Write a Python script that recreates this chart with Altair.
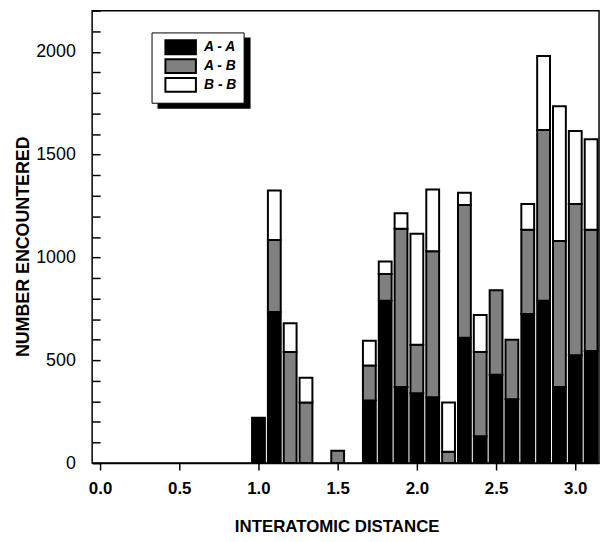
import altair as alt
import pandas as pd

# ---- data ----
centers = [1.0, 1.1, 1.2, 1.3, 1.5, 1.7, 1.8, 1.9, 2.0, 2.1, 2.2, 2.3, 2.4, 2.5, 2.6, 2.7, 2.8, 2.9, 3.0, 3.1]
aa = [220, 735, 0, 0, 0, 305, 790, 370, 340, 320, 0, 610, 130, 430, 310, 725, 790, 370, 525, 545]
ab = [0, 350, 540, 295, 60, 170, 130, 770, 235, 710, 55, 645, 410, 410, 290, 410, 830, 710, 735, 590]
bb = [0, 240, 140, 120, 0, 120, 60, 75, 540, 300, 240, 60, 180, 0, 0, 125, 360, 655, 355, 440]
series = ["A - A", "A - B", "B - B"]
colors = ["#000000", "#808080", "#ffffff"]
x_ticks = [0.0, 0.5, 1.0, 1.5, 2.0, 2.5, 3.0]
y_ticks = list(range(0, 2300, 100))

rows = []
for i, c in enumerate(centers):
    for k, (s, vals) in enumerate(zip(series, [aa, ab, bb])):
        rows.append({"center": c, "series": s, "count": vals[i], "order": k})
df = pd.DataFrame(rows)

FONT = "Liberation Sans"
half = 0.0405  # half-width of a drawn bar (bins are 0.1 wide)
W, H = 512, 457
TICK = 8

xscale = alt.Scale(domain=[-0.05, 3.15], nice=False, zero=False)
yscale = alt.Scale(domain=[0, 2200], nice=False)

swatch = "M-1,-1L3.4,-1L3.4,1L-1,1Z"

bars = (
    alt.Chart(df)
    .transform_stack(stack="count", groupby=["center"], as_=["y0", "y1"],
                     sort=[alt.SortField("order", order="ascending")])
    .transform_filter("datum.count > 0")
    .transform_calculate(lo=f"datum.center - {half}", hi=f"datum.center + {half}")
    .mark_rect(stroke="black", strokeWidth=2)
    .encode(
        x=alt.X("lo:Q", scale=xscale,
                axis=alt.Axis(values=x_ticks, format=".1f", tickSize=7, tickWidth=1.5,
                              labelPadding=11, labelFontSize=17, labelFontWeight="bold",
                              title="INTERATOMIC DISTANCE", titleFontSize=17,
                              titleFontWeight="bold", titleX=247, titleY=69,
                              titleBaseline="alphabetic", grid=False)),
        x2="hi:Q",
        # axis pulled TICK px into the plot so its (outward) ticks point inward
        y=alt.Y("y0:Q", scale=yscale,
                axis=alt.Axis(values=y_ticks, format="d", offset=-TICK,
                              labelExpr="datum.value % 500 === 0 ? datum.label : ''",
                              tickSize=TICK, tickWidth=1.5, domain=False,
                              labelPadding=9 + TICK, labelFontSize=18,
                              title="NUMBER ENCOUNTERED",
                              titleFontSize=18, titleFontWeight="bold",
                              titleX=-64 - TICK, titleY=238, titleAngle=270,
                              titleBaseline="alphabetic", titleAlign="center",
                              grid=False)),
        y2="y1:Q",
        color=alt.Color("series:N",
                        scale=alt.Scale(domain=series, range=colors),
                        legend=alt.Legend(orient="none", legendX=60, legendY=22, title=None,
                                          symbolType=swatch, symbolSize=196,
                                          symbolStrokeColor="black", symbolStrokeWidth=2,
                                          symbolOffset=6, labelOffset=24,
                                          labelFont=FONT, labelFontSize=14,
                                          labelFontWeight="bold", labelFontStyle="italic",
                                          labelColor="black",
                                          strokeColor="black", fillColor="white",
                                          padding=7, rowPadding=-3.5)),
    )
)

shadow = (
    alt.Chart(pd.DataFrame({"a": [0]}))
    .mark_rect(color="black")
    .encode(x=alt.value(66), x2=alt.value(160), y=alt.value(27), y2=alt.value(99))
)

chart = (
    alt.layer(shadow, bars)
    .properties(width=W, height=H,
                autosize=alt.AutoSizeParams(type="none"),
                padding={"left": 85, "top": 0, "right": 3, "bottom": 75})
    .configure(font=FONT)
    .configure_view(stroke="black", strokeWidth=1.5)
    .configure_axis(domainColor="black", domainWidth=1.5, tickColor="black",
                    labelColor="black", titleColor="black", labelFont=FONT, titleFont=FONT)
)

chart.save("out.html", embed_options={"renderer": "svg", "actions": False})
